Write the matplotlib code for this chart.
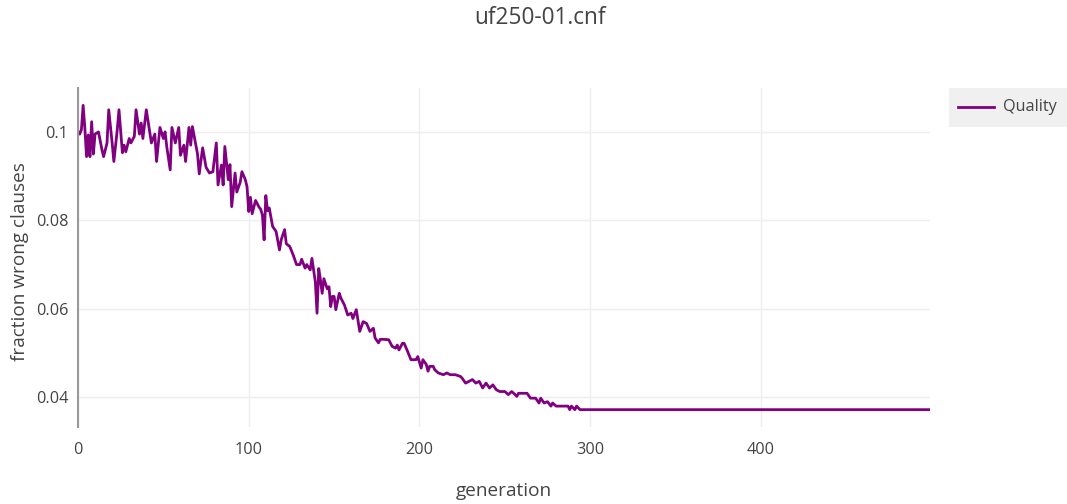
import matplotlib
matplotlib.use("Agg")
import matplotlib.pyplot as plt
from matplotlib.lines import Line2D
from matplotlib.patches import Rectangle

plt.rcParams['font.family'] = ['Open Sans', 'DejaVu Sans']

title = "uf250-01.cnf"
x_label = "generation"
y_label = "fraction wrong clauses"
series_name = "Quality"

generation = [
    0, 1, 2, 3, 4, 5, 6, 7, 8, 9, 10, 12, 14, 15, 17, 18, 20, 21, 23, 24,
    26, 27, 28, 30, 31, 33, 34, 36, 37, 38, 40, 42, 43, 45, 46, 48, 50, 51, 52, 54,
    55, 57, 59, 60, 62, 63, 65, 66, 67, 70, 71, 73, 75, 77, 79, 81, 82, 84, 85, 86,
    88, 89, 90, 92, 93, 95, 96, 98, 99, 100, 101, 102, 104, 106, 107, 108, 109, 110, 111, 112,
    114, 116, 118, 119, 121, 122, 124, 126, 128, 130, 131, 133, 134, 136, 137, 139, 140, 141, 142, 143,
    144, 146, 147, 148, 149, 150, 151, 153, 154, 156, 158, 160, 161, 163, 165, 167, 169, 171, 173, 174,
    176, 177, 179, 182, 184, 186, 187, 188, 190, 191, 193, 195, 198, 199, 201, 202, 204, 205, 206, 208,
    209, 211, 214, 216, 218, 221, 224, 225, 227, 229, 231, 233, 235, 237, 239, 241, 243, 245, 247, 250,
    252, 254, 256, 257, 258, 263, 265, 268, 270, 271, 273, 275, 277, 278, 280, 287, 288, 289, 291, 292,
    294, 499,
]
quality = [
    0.1001, 0.0995, 0.1005, 0.1060, 0.1009, 0.0944, 0.0993, 0.0944, 0.1023, 0.0950, 0.0995, 0.1000, 0.0960, 0.0944, 0.0975, 0.1050, 0.0975, 0.0933, 0.1005, 0.1050,
    0.0953, 0.0970, 0.0955, 0.0985, 0.0975, 0.0990, 0.1050, 0.0995, 0.1020, 0.0985, 0.1050, 0.1000, 0.0975, 0.0995, 0.0933, 0.1010, 0.0985, 0.1000, 0.0966, 0.0914,
    0.1010, 0.0975, 0.1010, 0.0947, 0.0970, 0.0933, 0.1010, 0.0970, 0.1012, 0.0950, 0.0905, 0.0964, 0.0920, 0.0907, 0.0910, 0.0975, 0.0880, 0.0925, 0.0880, 0.0967,
    0.0892, 0.0926, 0.0831, 0.0907, 0.0864, 0.0886, 0.0910, 0.0892, 0.0876, 0.0820, 0.0852, 0.0815, 0.0845, 0.0830, 0.0825, 0.0812, 0.0756, 0.0856, 0.0822, 0.0828,
    0.0786, 0.0775, 0.0733, 0.0756, 0.0779, 0.0747, 0.0741, 0.0722, 0.0700, 0.0700, 0.0712, 0.0692, 0.0700, 0.0688, 0.0714, 0.0661, 0.0590, 0.0691, 0.0665, 0.0635,
    0.0668, 0.0645, 0.0650, 0.0605, 0.0628, 0.0628, 0.0598, 0.0635, 0.0624, 0.0609, 0.0586, 0.0590, 0.0578, 0.0598, 0.0549, 0.0571, 0.0567, 0.0549, 0.0556, 0.0534,
    0.0523, 0.0531, 0.0531, 0.0530, 0.0515, 0.0511, 0.0518, 0.0507, 0.0522, 0.0522, 0.0504, 0.0485, 0.0485, 0.0492, 0.0466, 0.0485, 0.0474, 0.0459, 0.0470, 0.0470,
    0.0462, 0.0455, 0.0451, 0.0455, 0.0451, 0.0451, 0.0447, 0.0443, 0.0432, 0.0436, 0.0440, 0.0432, 0.0436, 0.0421, 0.0432, 0.0421, 0.0428, 0.0417, 0.0413, 0.0413,
    0.0406, 0.0413, 0.0406, 0.0402, 0.0409, 0.0409, 0.0398, 0.0398, 0.0387, 0.0398, 0.0387, 0.0390, 0.0380, 0.0387, 0.0380, 0.0380, 0.0372, 0.0380, 0.0372, 0.0380,
    0.0372, 0.0372,
]

x_ticks = [0, 100, 200, 300, 400]
x_tick_labels = ["0", "100", "200", "300", "400"]
y_ticks = [0.04, 0.06, 0.08, 0.1]
y_tick_labels = ["0.04", "0.06", "0.08", "0.1"]

W, H = 1067, 504
fig = plt.figure(figsize=(W / 100, H / 100), dpi=100)
fig.patch.set_facecolor("white")

left, right, top, bottom = 78, 930, 88, 427
ax = fig.add_axes([left / W, 1 - bottom / H, (right - left) / W, (bottom - top) / H])

line_color = "#800080"
text_color = "#444444"
grid_color = "#eeeeee"

ax.plot(generation, quality, color=line_color, linewidth=2, solid_joinstyle="round")

ax.set_xlim(0, 499)
ymin, ymax = min(quality), max(quality)
pad = (ymax - ymin) * 0.057
ax.set_ylim(ymin - pad, ymax + pad)

ax.set_xticks(x_ticks)
ax.set_xticklabels(x_tick_labels)
ax.set_yticks(y_ticks)
ax.set_yticklabels(y_tick_labels)

ax.grid(True, color=grid_color, linewidth=1)
ax.set_axisbelow(True)
for side in ["top", "right", "bottom"]:
    ax.spines[side].set_visible(False)
ax.spines["left"].set_color("#999999")
ax.spines["left"].set_linewidth(1.5)

tick_fs = 11.7
ax.tick_params(axis="both", length=0, labelsize=tick_fs, labelcolor=text_color)
ax.tick_params(axis="x", pad=11)
ax.tick_params(axis="y", pad=7)

fig.text(504 / W, 1 - 491 / H, x_label, ha="center", va="center", fontsize=13.7, color=text_color)
fig.text(20 / W, 1 - 262 / H, y_label, ha="center", va="center", rotation=90,
         fontsize=13.7, color=text_color)

fig.text(540 / W, 1 - 18 / H, title, ha="center", va="center", fontsize=16.3, color=text_color)

# legend
fig.patches.append(Rectangle((949 / W, 1 - 127 / H), (W - 949) / W, 39 / H,
                             transform=fig.transFigure, facecolor="#f0f0f0", edgecolor="none"))
fig.lines.append(Line2D([958 / W, 994 / W], [1 - 107 / H, 1 - 107 / H],
                        transform=fig.transFigure, color=line_color, linewidth=2))
fig.text(1003 / W, 1 - 107 / H, series_name, ha="left", va="center", fontsize=11.7, color=text_color)

fig.savefig("out.png", dpi=100)
